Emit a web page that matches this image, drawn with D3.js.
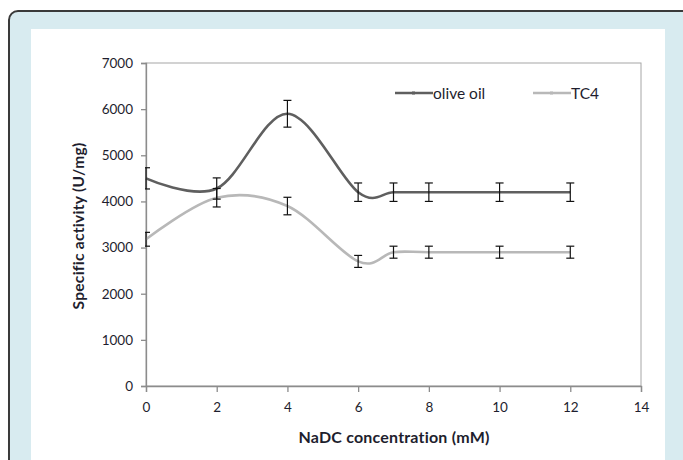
<!DOCTYPE html>
<html>
<head>
<meta charset="utf-8">
<script src="https://cdn.jsdelivr.net/npm/d3@7"></script>
<style>
  body { margin: 0; background: #fff; }
  svg { display: block; }
  text { font-family: Lato, "Open Sans", sans-serif; fill: #1e1e2e; }
</style>
</head>
<body>
<script>
let w = 683;
let h = 460;

// data
let concentrations = [0, 2, 4, 6, 7, 8, 10, 12];
let oliveOil = [4500, 4280, 5900, 4200, 4200, 4200, 4200, 4200];
let oliveOilErr = [230, 230, 290, 200, 200, 200, 200, 200];
let tc4 = [3180, 4080, 3900, 2700, 2900, 2900, 2900, 2900];
let tc4Err = [150, 200, 190, 130, 130, 130, 130, 130];
let xTicks = [0, 2, 4, 6, 8, 10, 12, 14];
let yTicks = [0, 1000, 2000, 3000, 4000, 5000, 6000, 7000];

let series = [
  { name: 'olive oil', values: oliveOil, err: oliveOilErr, color: '#5f5f5f' },
  { name: 'TC4', values: tc4, err: tc4Err, color: '#b8b8b8' }
];

let plotLeft = 146, plotRight = 641, plotTop = 63, plotBottom = 386;

let xScale = d3.scaleLinear()
  .domain([0, 14])
  .range([plotLeft, plotRight]);

let yScale = d3.scaleLinear()
  .domain([0, 7000])
  .range([plotBottom, plotTop]);

let svg = d3.select('body')
  .append('svg')
  .attr('width', w)
  .attr('height', h);

// page frame
svg.append('rect')
  .attr('x', 9).attr('y', 11)
  .attr('width', 700).attr('height', 500)
  .attr('rx', 9)
  .attr('fill', '#d8ebf0')
  .attr('stroke', '#3a3a3a')
  .attr('stroke-width', 2);

svg.append('rect')
  .attr('x', 31).attr('y', 29)
  .attr('width', 634).attr('height', 460)
  .attr('fill', '#fff');

// plot area border
svg.append('rect')
  .attr('x', plotLeft).attr('y', plotTop)
  .attr('width', plotRight - plotLeft).attr('height', plotBottom - plotTop)
  .attr('fill', 'none')
  .attr('stroke', '#a6a6a6')
  .attr('stroke-width', 1);

let xAxis = d3.axisBottom(xScale)
  .tickValues(xTicks)
  .tickFormat(d3.format('d'))
  .tickSize(6)
  .tickPadding(10);

let yAxis = d3.axisLeft(yScale)
  .tickValues(yTicks)
  .tickFormat(d3.format('d'))
  .tickSize(5)
  .tickPadding(8);

svg.append('g')
  .attr('class', 'x axis')
  .attr('transform', 'translate(0, ' + plotBottom + ')')
  .call(xAxis);

svg.append('g')
  .attr('class', 'y axis')
  .attr('transform', 'translate(' + plotLeft + ', 0)')
  .call(yAxis);

svg.selectAll('.axis path').attr('stroke', '#8c8c8c').attr('stroke-width', 1.3);
svg.selectAll('.axis line').attr('stroke', '#8c8c8c').attr('stroke-width', 1.3);
svg.selectAll('.axis text')
  .style('font-family', 'Lato, sans-serif')
  .style('font-size', '13.5px')
  .attr('fill', '#1e1e2e');

svg.append('clipPath')
  .attr('id', 'chart-area')
  .append('rect')
  .attr('x', plotLeft - 1)
  .attr('y', 0)
  .attr('width', plotRight - plotLeft + 10)
  .attr('height', h);

let line = d3.line()
  .x((d) => { return xScale(d[0]); })
  .y((d) => { return yScale(d[1]); })
  .curve(d3.curveCardinal.tension(0));

let plot = svg.append('g').attr('clip-path', 'url(#chart-area)');

series.forEach((s) => {
  let pts = concentrations.map((c, i) => { return [c, s.values[i]]; });

  plot.append('path')
    .datum(pts)
    .attr('fill', 'none')
    .attr('stroke', s.color)
    .attr('stroke-width', 2.6)
    .attr('d', line);
});

// error bars
series.forEach((s) => {
  let bars = plot.append('g')
    .selectAll('g')
    .data(concentrations.map((c, i) => { return { x: c, y: s.values[i], e: s.err[i] }; }))
    .enter()
    .append('g')
    .attr('stroke', '#111')
    .attr('stroke-width', 1.2);

  bars.append('line')
    .attr('x1', (d) => { return xScale(d.x); })
    .attr('x2', (d) => { return xScale(d.x); })
    .attr('y1', (d) => { return yScale(d.y + d.e); })
    .attr('y2', (d) => { return yScale(d.y - d.e); });

  bars.append('line')
    .attr('x1', (d) => { return xScale(d.x) - 4; })
    .attr('x2', (d) => { return xScale(d.x) + 4; })
    .attr('y1', (d) => { return yScale(d.y + d.e); })
    .attr('y2', (d) => { return yScale(d.y + d.e); });

  bars.append('line')
    .attr('x1', (d) => { return xScale(d.x) - 4; })
    .attr('x2', (d) => { return xScale(d.x) + 4; })
    .attr('y1', (d) => { return yScale(d.y - d.e); })
    .attr('y2', (d) => { return yScale(d.y - d.e); });
});

// legend
let legend = svg.append('g')
  .selectAll('g')
  .data(series)
  .enter()
  .append('g')
  .attr('transform', (d, i) => { return 'translate(' + (395 + i * 138) + ', 93)'; });

legend.append('line')
  .attr('x1', 0).attr('x2', 38)
  .attr('stroke', (d) => { return d.color; })
  .attr('stroke-width', 2.6);

legend.append('rect')
  .attr('x', 17).attr('y', -1.5)
  .attr('width', 3).attr('height', 3)
  .attr('fill', (d) => { return d.color; });

legend.append('text')
  .attr('x', 38)
  .attr('y', 5.5)
  .style('font-size', '15.5px')
  .text((d) => { return d.name; });

// axis titles
svg.append('text')
  .attr('x', 394)
  .attr('y', 443)
  .attr('text-anchor', 'middle')
  .style('font-size', '16px')
  .style('font-weight', 'bold')
  .style('letter-spacing', '0.2px')
  .text('NaDC concentration (mM)');

svg.append('text')
  .attr('transform', 'translate(84, 226) rotate(-90)')
  .attr('text-anchor', 'middle')
  .style('font-size', '15.5px')
  .style('font-weight', 'bold')
  .style('letter-spacing', '0.3px')
  .text('Specific activity (U/mg)');
</script>
</body>
</html>
